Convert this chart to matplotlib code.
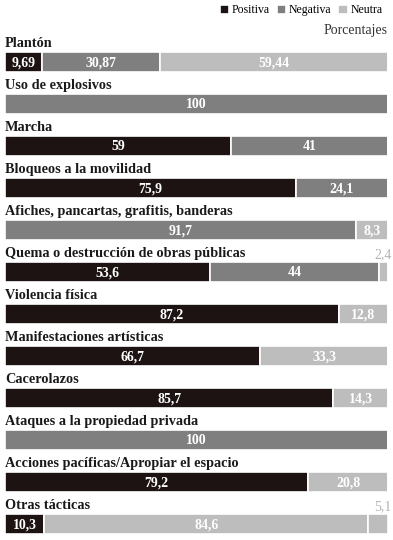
import matplotlib.pyplot as plt

# datos (porcentajes)
tacticas = [
    "Plantón",
    "Uso de explosivos",
    "Marcha",
    "Bloqueos a la movilidad",
    "Afiches, pancartas, grafitis, banderas",
    "Quema o destrucción de obras públicas",
    "Violencia física",
    "Manifestaciones artísticas",
    "Cacerolazos",
    "Ataques a la propiedad privada",
    "Acciones pacíficas/Apropiar el espacio",
    "Otras tácticas",
]
positiva = [9.69, 0, 59, 75.9, 0, 53.6, 87.2, 66.7, 85.7, 0, 79.2, 10.3]
negativa = [30.87, 100, 41, 24.1, 91.7, 44, 0, 0, 0, 100, 0, 0]
neutra = [59.44, 0, 0, 0, 8.3, 2.4, 12.8, 33.3, 14.3, 0, 20.8, 84.6]
resto = [0, 0, 0, 0, 0, 0, 0, 0, 0, 0, 0, 5.1]

C_POS = "#1c1312"
C_NEG = "#7f7f7f"
C_NEU = "#bdbdbd"
SERIF = ["Liberation Serif", "DejaVu Serif"]


def fmt(v):
    return ("%g" % v).replace(".", ",")


fig = plt.figure(figsize=(3.93, 5.40), dpi=100)
# row 0 centred at px 62, rows 42 px apart
ax = fig.add_axes([5 / 393, 0, 383 / 393, 1])
ax.set_xlim(0, 100)
ax.set_ylim((540 - 62) / 42, -62 / 42)
ax.axis("off")

rows = list(range(len(tacticas)))
h = 0.48
left = [0] * len(rows)
series = [(positiva, C_POS, "Positiva"), (negativa, C_NEG, "Negativa"),
          (neutra, C_NEU, "Neutra"), (resto, C_NEU, None)]
handles = []
for vals, col, name in series:
    bars = ax.barh(rows, vals, left=left, height=h, color=col,
                   edgecolor="white", linewidth=1.2)
    if name:
        handles.append((bars, name))
    for r, v, l in zip(rows, vals, left):
        if v <= 0:
            continue
        if v < 6:
            # small shares go above the end of the bar
            ax.text(100.9, r - 0.42, fmt(v), ha="right", va="center",
                    fontsize=10, color="#b5b5b5", family=SERIF)
        else:
            ax.text(l + v / 2, r + 0.02, fmt(v), ha="center", va="center",
                    fontsize=10, color="white", fontweight="bold",
                    family=SERIF)
    left = [a + b for a, b in zip(left, vals)]

for r, name in zip(rows, tacticas):
    ax.text(0, r - 0.43, name, ha="left", va="center", fontsize=10.3,
            fontweight="bold", color="#1a1a1a", family=SERIF)

fig.legend([hd for hd, _ in handles], [n for _, n in handles],
           loc="upper right", bbox_to_anchor=(1.0, 1.012), ncol=3,
           frameon=False, handlelength=0.8, handleheight=0.8,
           handletextpad=0.2, columnspacing=0.6,
           prop={"family": SERIF, "size": 8.5})
fig.text(388 / 393, 1 - 31 / 540, "Porcentajes", ha="right", va="center",
         fontsize=10, color="#333333", family=SERIF)

fig.savefig("out.png", dpi=100)
